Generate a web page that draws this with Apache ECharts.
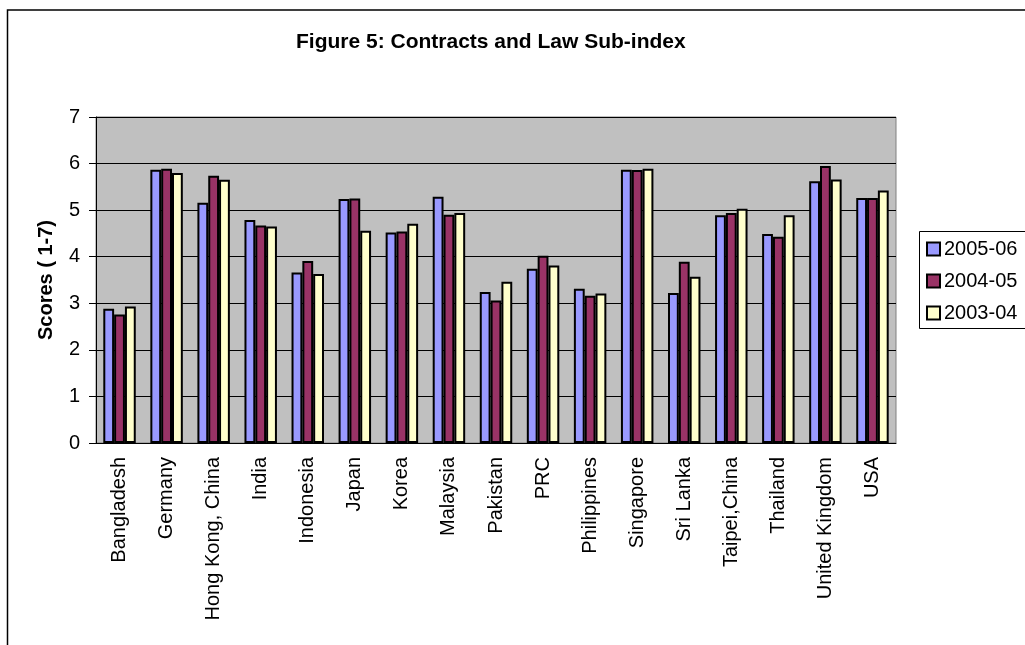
<!DOCTYPE html>
<html>
<head>
<meta charset="utf-8">
<script src="https://cdn.jsdelivr.net/npm/echarts@6/dist/echarts.min.js"></script>
<style>
html,body{margin:0;padding:0;background:#fff;}
#c{width:1025px;height:645px;}
</style>
</head>
<body>
<div id="c"></div>
<script>
const categories = ["Bangladesh","Germany","Hong Kong, China","India","Indonesia","Japan","Korea","Malaysia","Pakistan","PRC","Philippines","Singapore","Sri Lanka","Taipei,China","Thailand","United Kingdom","USA"];
const s2005 = [2.88,5.87,5.16,4.79,3.66,5.24,4.52,5.29,3.24,3.74,3.31,5.87,3.22,4.89,4.49,5.62,5.26];
const s2004 = [2.76,5.89,5.74,4.67,3.91,5.25,4.54,4.90,3.06,4.02,3.16,5.86,3.89,4.94,4.43,5.95,5.26];
const s2003 = [2.93,5.80,5.65,4.65,3.63,4.56,4.71,4.94,3.46,3.81,3.21,5.89,3.57,5.03,4.89,5.66,5.42];
const seriesNames = ["2005-06","2004-05","2003-04"];
const yTicks = [0,1,2,3,4,5,6,7];

const FONT = '"Liberation Sans", Arial, sans-serif';
const colors = ['#9999FF','#993366','#FFFFCC'];
const chart = echarts.init(document.getElementById('c'));
const dataSets = [s2005, s2004, s2003];

chart.setOption({
  backgroundColor: '#fff',
  animation: false,
  title: {
    text: 'Figure 5: Contracts and Law Sub-index',
    left: 291, top: 27,
    textStyle: {fontFamily: FONT, fontSize: 21, fontWeight: 'bold', color: '#000'}
  },
  legend: {
    orient: 'vertical',
    left: 921, top: 234,
    itemWidth: 13, itemHeight: 13,
    itemGap: 12,
    icon: 'rect',
    textStyle: {fontFamily: FONT, fontSize: 20, color: '#000', padding: [0,0,0,-1]},
    data: seriesNames
  },
  grid: {
    left: 96, top: 117, width: 800, height: 326,
    show: true, backgroundColor: '#C0C0C0', borderColor: '#808080', borderWidth: 1
  },
  xAxis: {
    type: 'category',
    data: categories,
    axisLine: {lineStyle: {color: '#000', width: 1}},
    axisTick: {length: 7, lineStyle: {color: '#000'}},
    axisLabel: {rotate: 90, margin: 14, interval: 0, fontFamily: FONT, fontSize: 20, color: '#000'}
  },
  yAxis: {
    type: 'value',
    min: yTicks[0], max: yTicks[yTicks.length-1], interval: 1,
    name: 'Scores ( 1-7)',
    nameLocation: 'middle',
    nameGap: 40,
    nameTextStyle: {fontFamily: FONT, fontSize: 20, fontWeight: 'bold', color: '#000'},
    axisLine: {show: true, lineStyle: {color: '#000', width: 1}},
    axisTick: {show: true, length: 7, lineStyle: {color: '#000'}},
    axisLabel: {margin: 16, fontFamily: FONT, fontSize: 20, color: '#000'},
    splitLine: {show: true, lineStyle: {color: '#000', width: 1}}
  },
  series: seriesNames.map((n, i) => ({
    name: n,
    type: 'bar',
    data: dataSets[i],
    barGap: '0%',
    barCategoryGap: '31%',
    itemStyle: {color: colors[i], borderColor: '#000', borderWidth: 2}
  })),
  graphic: [
    {type: 'rect', shape: {x: 7.5, y: 10, width: 1100, height: 1000}, style: {fill: null, stroke: '#000', lineWidth: 1.5}, silent: true, z: 100},
    {type: 'rect', shape: {x: 919.5, y: 231.5, width: 200, height: 97}, style: {fill: null, stroke: '#000', lineWidth: 1}, silent: true, z: 100}
  ]
});
</script>
</body>
</html>
